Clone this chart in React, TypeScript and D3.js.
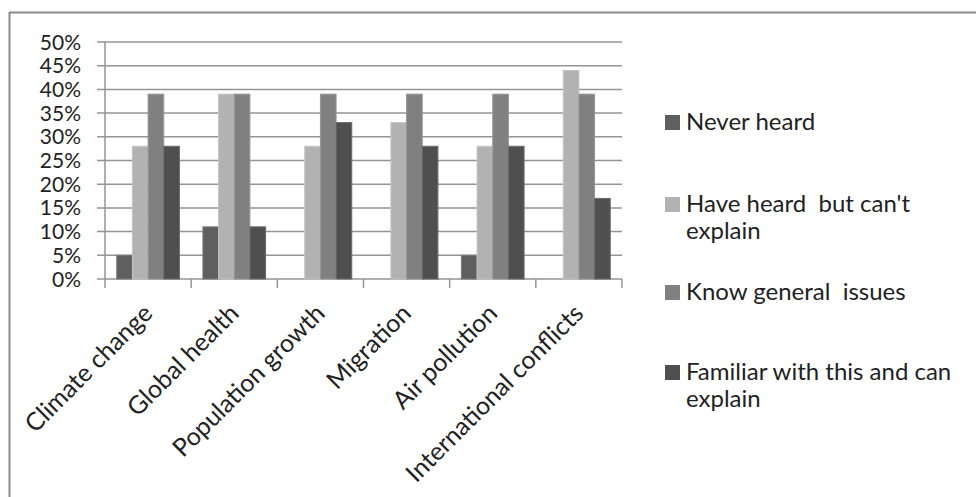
import React from "react";
import * as d3 from "d3";

const categories = [
  "Climate change",
  "Global health",
  "Population growth",
  "Migration",
  "Air pollution",
  "International conflicts",
];
const seriesNames = [
  "Never heard",
  "Have heard but can't explain",
  "Know general  issues",
  "Familiar with this and can explain",
];
const neverHeard = [5, 11, 0, 0, 5, 0];
const heardCantExplain = [28, 39, 28, 33, 28, 44];
const knowGeneral = [39, 39, 39, 39, 39, 39];
const familiar = [28, 11, 33, 28, 28, 17];
const yTicks = [0, 5, 10, 15, 20, 25, 30, 35, 40, 45, 50];

const seriesValues = [neverHeard, heardCantExplain, knowGeneral, familiar];
const fills = ["#5f5f5f", "#b2b2b2", "#808080", "#4f4f4f"];
const strokes = ["#7a7a7a", "#c4c4c4", "#979797", "#6a6a6a"];
const legendLines = [
  ["Never heard"],
  ["Have heard  but can't", "explain"],
  ["Know general  issues"],
  ["Familiar with this and can", "explain"],
];
const legendY = [115, 197, 285, 365];

const W = 976;
const H = 497;
const FONT = "Lato, 'Open Sans', sans-serif";

export default function App() {
  const plot = { left: 105, right: 622, top: 42, bottom: 279 };
  const x = d3
    .scaleBand<string>()
    .domain(categories)
    .range([plot.left, plot.right])
    .paddingInner(0)
    .paddingOuter(0);
  // gap width of 150%: bar width = band / 5.5
  const barW = x.bandwidth() / 5.5;
  const groupOffset = (x.bandwidth() - barW * 4) / 2;
  const y = d3.scaleLinear().domain([0, 50]).range([plot.bottom, plot.top]);

  const gridColor = "#959595";

  return (
    <svg
      width={W}
      height={H}
      style={{ position: "absolute", left: 0, top: 0, background: "#fff" }}
      fontFamily={FONT}
    >
      {/* chart frame */}
      <line x1={9} x2={W} y1={12.5} y2={12.5} stroke="#8a8a8a" strokeWidth={2} />
      <line x1={9.5} x2={9.5} y1={12} y2={H} stroke="#8a8a8a" strokeWidth={2} />

      {/* gridlines with left tick marks */}
      {yTicks.map((t) => (
        <g key={t}>
          <line
            x1={plot.left - 8}
            x2={plot.right}
            y1={y(t)}
            y2={y(t)}
            stroke={gridColor}
            strokeWidth={1.5}
          />
          <text
            x={81}
            y={y(t)}
            dy="0.36em"
            textAnchor="end"
            fontSize={21}
            fill="#222"
          >
            {t}%
          </text>
        </g>
      ))}

      {/* y axis */}
      <line
        x1={plot.left}
        x2={plot.left}
        y1={plot.top}
        y2={plot.bottom}
        stroke={gridColor}
        strokeWidth={1.5}
      />

      {/* category tick marks */}
      {d3.range(categories.length + 1).map((i) => {
        const tx = plot.left + i * x.bandwidth();
        return (
          <line
            key={"t" + i}
            x1={tx}
            x2={tx}
            y1={plot.bottom}
            y2={plot.bottom + 9}
            stroke={gridColor}
            strokeWidth={1.5}
          />
        );
      })}

      {/* bars */}
      {seriesValues.map((vals, s) =>
        vals.map((v, i) => {
          if (v <= 0) return null;
          const bx = (x(categories[i]) as number) + groupOffset + s * barW;
          return (
            <rect
              key={s + "-" + i}
              x={bx}
              y={y(v)}
              width={barW}
              height={plot.bottom - y(v)}
              fill={fills[s]}
              stroke={strokes[s]}
              strokeWidth={1}
            />
          );
        })
      )}

      {/* category labels */}
      {categories.map((c) => {
        const cx = (x(c) as number) + x.bandwidth() / 2;
        return (
          <text
            key={c}
            transform={`translate(${cx + 6},${plot.bottom + 36}) rotate(-45)`}
            textAnchor="end"
            fontSize={25}
            fill="#222"
          >
            {c}
          </text>
        );
      })}

      {/* legend */}
      {seriesNames.map((name, s) => (
        <g key={name}>
          <rect x={665} y={legendY[s]} width={15} height={15} fill={fills[s]} />
          {legendLines[s].map((ln, k) => (
            <text
              key={k}
              x={686}
              y={legendY[s] + 15 + k * 27}
              fontSize={24}
              fill="#222"
              style={{ whiteSpace: "pre" }}
            >
              {ln}
            </text>
          ))}
        </g>
      ))}
    </svg>
  );
}
